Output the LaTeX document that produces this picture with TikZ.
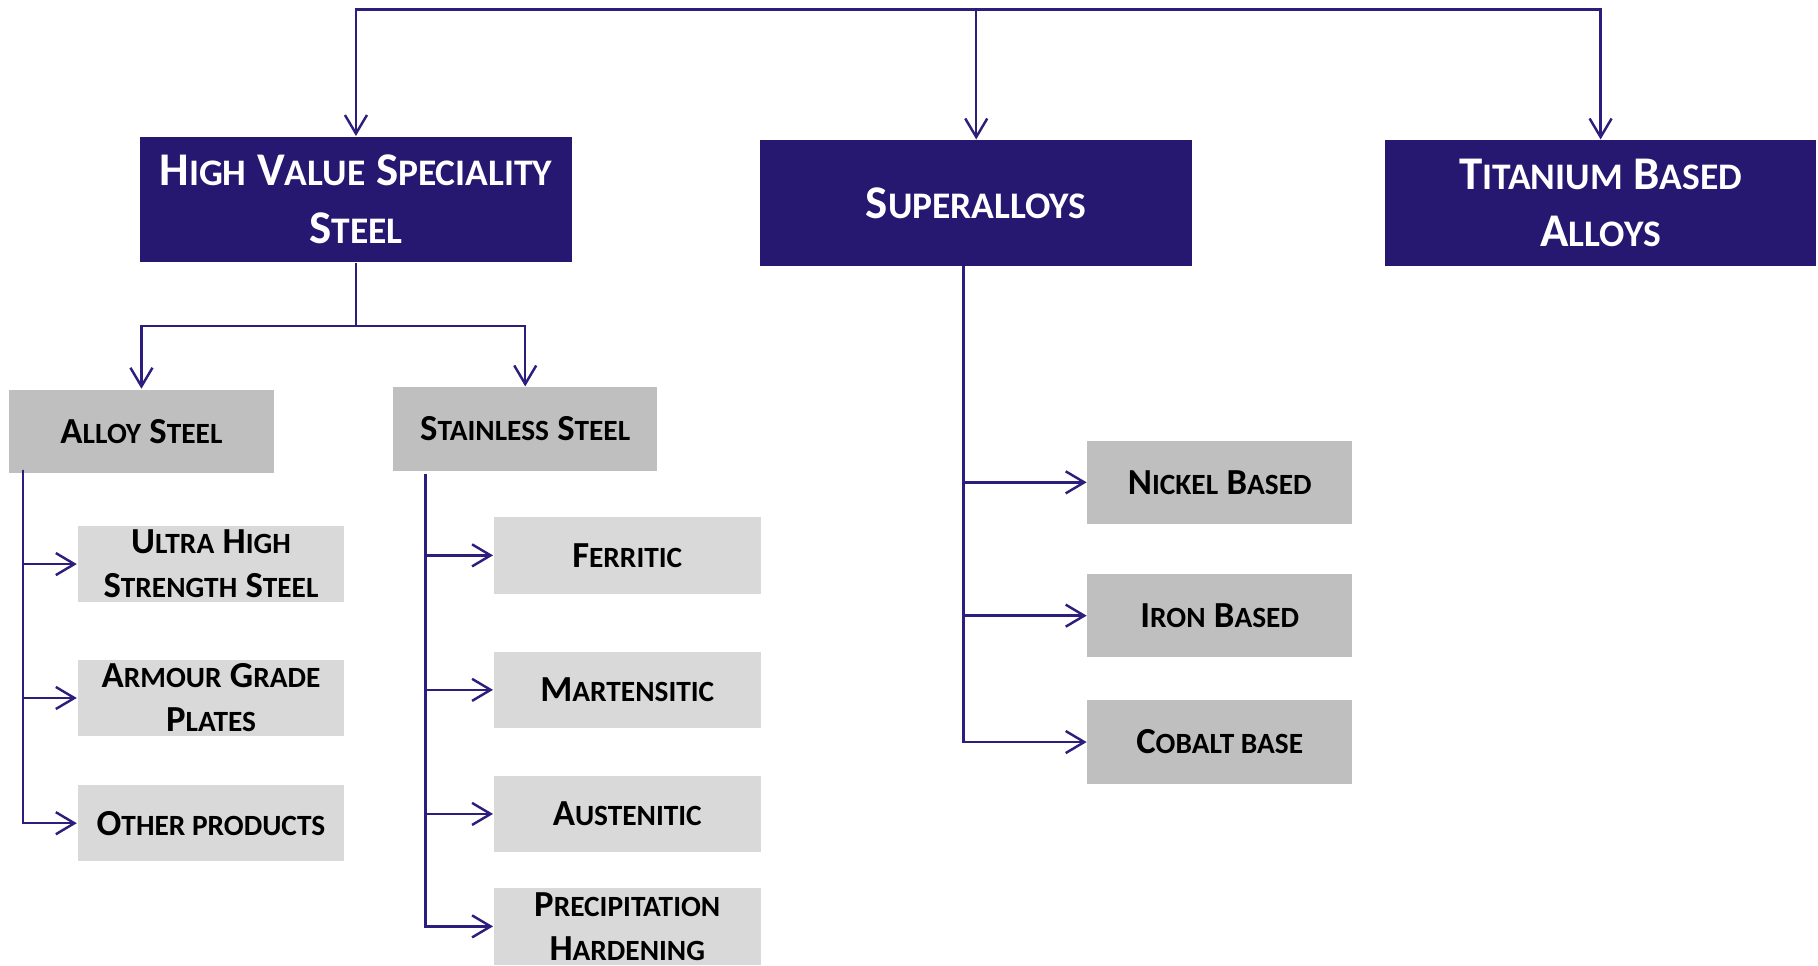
\documentclass[tikz,border=0pt]{standalone}
\usepackage{fontspec}
\usepackage{graphicx}
\setmainfont{Carlito}
\usetikzlibrary{arrows.meta}

\definecolor{navy}{RGB}{38,23,112}
\definecolor{wire}{RGB}{44,30,124}
\definecolor{midgrey}{RGB}{191,191,191}
\definecolor{lightgrey}{RGB}{217,217,217}

\def \lineWidth {0.6pt}
\newcommand{\sm}[1]{\scalebox{0.8}{#1}}

\begin{document}
\begin{tikzpicture}[x=0.01cm, y=-0.01cm,
    >={Straight Barb[length=1.6mm,width=1.9mm]},
    link/.style={draw=wire, line width=\lineWidth},
    topbox/.style={fill=navy, text=white, align=center, inner sep=0pt,
      minimum width=3.72cm, minimum height=1.08cm,
      font=\bfseries\fontsize{11.5}{14.2}\selectfont},
    midbox/.style={fill=midgrey, align=center, inner sep=0pt,
      minimum width=2.28cm, minimum height=0.72cm,
      font=\bfseries\fontsize{9}{10.8}\selectfont},
    subbox/.style={fill=lightgrey, align=center, inner sep=0pt,
      minimum width=2.30cm, minimum height=0.66cm,
      font=\bfseries\fontsize{9}{10.8}\selectfont}]
         \useasboundingbox (0,0) rectangle (1568,833);

         \node[topbox] (hvss) at (307,172) {H\sm{IGH} V\sm{ALUE} S\sm{PECIALITY}\\S\sm{TEEL}};
         \node[topbox] (super) at (842,175) {S\sm{UPERALLOYS}};
         \node[topbox] (titan) at (1380.5,175) {T\sm{ITANIUM} B\sm{ASED}\\A\sm{LLOYS}};

         \node[midbox] (alloy) at (122,372) {A\sm{LLOY} S\sm{TEEL}};
         \node[midbox] (stainless) at (453,370) {S\sm{TAINLESS} S\sm{TEEL}};

         \node[subbox] (uhss) at (182,486.5) {U\sm{LTRA} H\sm{IGH}\\S\sm{TRENGTH} S\sm{TEEL}};
         \node[subbox] (armour) at (182,602) {A\sm{RMOUR} G\sm{RADE}\\P\sm{LATES}};
         \node[subbox] (other) at (182,710) {O\sm{THER PRODUCTS}};

         \node[subbox] (ferritic) at (541,479) {F\sm{ERRITIC}};
         \node[subbox] (marten) at (541,595) {M\sm{ARTENSITIC}};
         \node[subbox] (austen) at (541,702) {A\sm{USTENITIC}};
         \node[subbox] (precip) at (541,799) {P\sm{RECIPITATION}\\H\sm{ARDENING}};

         \node[midbox] (nickel) at (1052,416) {N\sm{ICKEL} B\sm{ASED}};
         \node[midbox] (iron) at (1052,531) {I\sm{RON} B\sm{ASED}};
         \node[midbox] (cobalt) at (1052,640) {C\sm{OBALT BASE}};

         \coordinate (bus) at (842,8);
         \coordinate (hsplit) at (307,281);
         \coordinate (atrunk) at (20,405);
         \coordinate (strunk) at (367,409);
         \coordinate (ptrunk) at (831,229);

         \draw[link,->] (bus) -| (hvss);
         \draw[link,->] (bus) -- (super);
         \draw[link,->] (bus) -| (titan);

         \draw[link] (hvss) -- (hsplit);
         \draw[link,->] (hsplit) -| (alloy);
         \draw[link,->] (hsplit) -| (stainless);

         \draw[link,->] (atrunk) |- (uhss);
         \draw[link,->] (atrunk) |- (armour);
         \draw[link,->] (atrunk) |- (other);

         \draw[link,->] (strunk) |- (ferritic);
         \draw[link,->] (strunk) |- (marten);
         \draw[link,->] (strunk) |- (austen);
         \draw[link,->] (strunk) |- (precip);

         \draw[link,->] (ptrunk) |- (nickel);
         \draw[link,->] (ptrunk) |- (iron);
         \draw[link,->] (ptrunk) |- (cobalt);
      \end{tikzpicture}
\end{document}
